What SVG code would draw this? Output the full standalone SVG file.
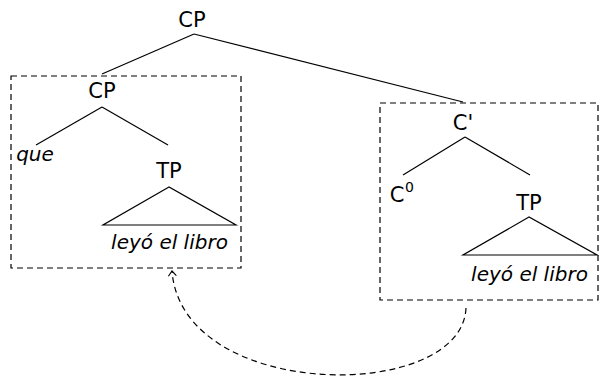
<svg xmlns="http://www.w3.org/2000/svg" width="602" height="378" viewBox="0 0 602 378">
<style>
text{font-family:"DejaVu Sans","Liberation Sans",sans-serif;fill:#000;text-anchor:middle}
.n{font-size:21px}
.i{font-size:20px;font-style:italic}
.e{stroke:#000;stroke-width:1.2;fill:none}
.box{stroke:#000;stroke-width:1.2;fill:none;stroke-dasharray:6 4}
</style>
<defs>
<marker id="ah" markerWidth="10" markerHeight="10" refX="6" refY="5" orient="auto" markerUnits="userSpaceOnUse" viewBox="0 0 10 10">
<path d="M1,1 L6,5 L1,9" fill="none" stroke="#000" stroke-width="1.1"/>
</marker>
</defs>
<g id="boxes">
<rect id="box-left" class="box" x="11" y="76" width="230" height="192"/>
<rect id="box-right" class="box" x="380" y="103" width="218" height="197"/>
</g>
<g id="connectors">
<line class="e" x1="194" y1="34" x2="102" y2="74"/>
<line class="e" x1="194" y1="34" x2="463" y2="102"/>
<line class="e" x1="102" y1="107" x2="36" y2="145"/>
<line class="e" x1="102" y1="107" x2="168" y2="145"/>
<path class="e" d="M169,187 L103,225 L236,225 Z"/>
<line class="e" x1="465" y1="137" x2="403" y2="175"/>
<line class="e" x1="465" y1="137" x2="530" y2="175"/>
<path class="e" d="M529,217 L463,255 L597,255 Z"/>
<path class="box" d="M466,308 C462,403 182,402 172,271" marker-end="url(#ah)"/>
</g>
<g id="cp-top"><text class="n" x="192" y="27">CP</text></g>
<g id="cp-inner"><text class="n" x="102" y="98">CP</text></g>
<g id="que"><text class="i" x="35" y="161">que</text></g>
<g id="tp-left"><text class="n" x="169" y="178">TP</text></g>
<g id="yield-left"><text class="i" x="169.5" y="249">leyó el libro</text></g>
<g id="cbar"><text class="n" x="463" y="130">C'</text></g>
<g id="c0"><text class="n" x="397" y="202">C</text><text x="409.5" y="192" style="font-size:14px">0</text></g>
<g id="tp-right"><text class="n" x="529" y="210">TP</text></g>
<g id="yield-right"><text class="i" x="529.5" y="281">leyó el libro</text></g>
</svg>
